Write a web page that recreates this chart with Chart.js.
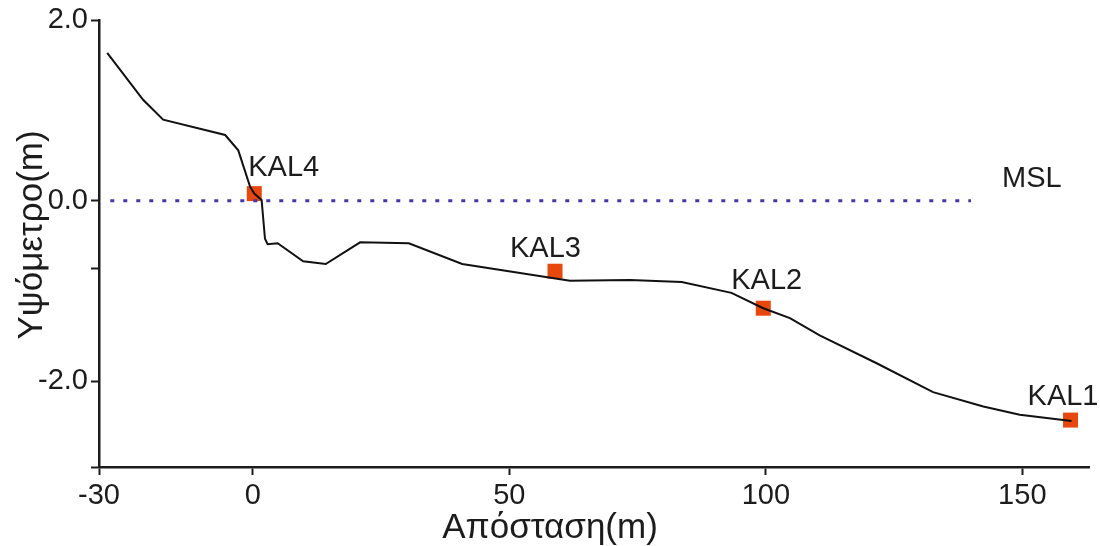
<!DOCTYPE html>
<html>
<head>
<meta charset="utf-8">
<script src="https://cdn.jsdelivr.net/npm/chart.js@4"></script>
<style>
  body { margin: 0; background: #fff; }
  #wrap { width: 1100px; height: 546px; }
</style>
</head>
<body>
<div id="wrap"><canvas id="profileChart"></canvas></div>
<script>
// Τοπογραφικό προφίλ (απόσταση σε m, υψόμετρο σε m)
const profileX = [-28.4, -21.4, -17.5, -5.4, -2.85, -0.57, 0.27, 1.7, 2.36, 2.88, 4.83, 9.8, 14.2, 20.9, 30.4, 40.8, 61.8, 73.5, 83.6, 93.3, 99.5, 104.7, 110.5, 121.6, 132.6, 142.4, 149.5, 159.6];
const profileY = [1.64, 1.12, 0.90, 0.73, 0.56, 0.16, 0.08, 0.01, -0.42, -0.48, -0.47, -0.67, -0.70, -0.46, -0.47, -0.70, -0.885, -0.877, -0.90, -1.02, -1.19, -1.30, -1.49, -1.80, -2.12, -2.28, -2.37, -2.44];

// Σημεία δειγματοληψίας
const stationNames = ['KAL4', 'KAL3', 'KAL2', 'KAL1'];
const stationX = [0.27, 58.9, 99.5, 159.4];
const stationY = [0.08, -0.78, -1.19, -2.43];

// Μέση στάθμη θάλασσας
const mslX = [-27.8, 140];
const mslY = [0, 0];

// Άξονες
const xTicks = [-30, 0, 50, 100, 150];
const yTicks = [2, 0, -0.75, -2, -2.95];
const yTickLabels = ['2.0', '0.0', '', '-2.0', ''];

const FONT = '"Liberation Sans", Arial, Helvetica, sans-serif';
const INK = '#1c1c1c';

const toPoints = (xs, ys) => xs.map((x, i) => ({ x: x, y: ys[i] }));

// Ετικέτες σταθμών και MSL
const textLabels = {
  id: 'textLabels',
  afterDatasetsDraw(chart, args, opts) {
    const ctx = chart.ctx;
    const xs = chart.scales.x, ys = chart.scales.y;
    ctx.save();
    ctx.fillStyle = INK;
    ctx.font = '29px ' + FONT;
    ctx.textAlign = 'left';
    ctx.textBaseline = 'alphabetic';
    stationNames.forEach((name, i) => {
      const off = opts.offsets[i];
      ctx.fillText(name, xs.getPixelForValue(stationX[i]) + off[0], ys.getPixelForValue(stationY[i]) + off[1]);
    });
    ctx.fillText('MSL', xs.getPixelForValue(mslX[1]) + opts.msl[0], ys.getPixelForValue(mslY[1]) + opts.msl[1]);
    ctx.restore();
  }
};

// Τίτλοι αξόνων
const axisTitles = {
  id: 'axisTitles',
  afterDraw(chart) {
    const ctx = chart.ctx;
    ctx.save();
    ctx.fillStyle = INK;
    ctx.font = '35px ' + FONT;
    ctx.textAlign = 'center';
    ctx.textBaseline = 'alphabetic';
    ctx.fillText('Απόσταση(m)', chart.width / 2, 538);
    ctx.translate(42, 235);
    ctx.rotate(-Math.PI / 2);
    ctx.fillText('Υψόμετρο(m)', 0, 0);
    ctx.restore();
  }
};

new Chart(document.getElementById('profileChart'), {
  type: 'scatter',
  data: {
    datasets: [
      {
        label: 'MSL',
        data: toPoints(mslX, mslY),
        showLine: true,
        borderColor: '#4636a8',
        borderWidth: 3,
        borderDash: [4, 9],
        pointRadius: 0
      },
      {
        label: 'Προφίλ',
        data: toPoints(profileX, profileY),
        showLine: true,
        borderColor: '#111',
        borderWidth: 2,
        pointRadius: 0,
        tension: 0
      },
      {
        label: 'Σταθμοί',
        data: toPoints(stationX, stationY),
        pointStyle: 'rect',
        pointRadius: 10.6,
        backgroundColor: '#e8480e',
        borderWidth: 0,
        clip: false
      }
    ]
  },
  options: {
    responsive: true,
    maintainAspectRatio: false,
    animation: false,
    layout: { padding: { left: 0, right: 11, top: 20, bottom: 0 } },
    plugins: {
      legend: { display: false },
      tooltip: { enabled: false },
      textLabels: {
        offsets: [[-6, -18], [-45, -14], [-32, -19], [-43, -15]],
        msl: [31, -14]
      }
    },
    scales: {
      x: {
        type: 'linear',
        min: -30,
        max: 163,
        afterBuildTicks: (s) => { s.ticks = xTicks.map(v => ({ value: v })); },
        afterFit: (s) => { s.height = 79; },
        grid: { drawOnChartArea: false, drawTicks: true, tickLength: 8, tickWidth: 2, tickColor: INK },
        border: { display: true, color: INK, width: 2.5 },
        ticks: { color: INK, font: { family: FONT, size: 29 }, padding: 4, maxRotation: 0 }
      },
      y: {
        type: 'linear',
        min: -2.95,
        max: 2,
        afterBuildTicks: (s) => { s.ticks = yTicks.map(v => ({ value: v })); },
        afterFit: (s) => { s.width = 99; },
        grid: { drawOnChartArea: false, drawTicks: true, tickLength: 8, tickWidth: 2, tickColor: INK },
        border: { display: true, color: INK, width: 2.5 },
        ticks: {
          color: INK,
          font: { family: FONT, size: 29 },
          padding: 3,
          callback: (v, i) => yTickLabels[i]
        }
      }
    }
  },
  plugins: [textLabels, axisTitles]
});
</script>
</body>
</html>
